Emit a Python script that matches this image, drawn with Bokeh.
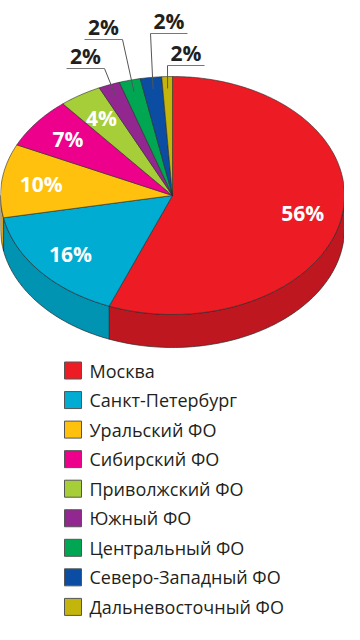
import numpy as np
from bokeh.plotting import figure
from bokeh.models import Range1d, ColumnDataSource
from bokeh.core.properties import value
from bokeh.embed import file_html
from bokeh.resources import INLINE

# ---- data ----
regions = ["Москва", "Санкт-Петербург", "Уральский ФО", "Сибирский ФО",
           "Приволжский ФО", "Южный ФО", "Центральный ФО",
           "Северо-Западный ФО", "Дальневосточный ФО"]
shares = [56, 16, 10, 7, 4, 2, 2, 2, 1]
share_labels = ["56%", "16%", "10%", "7%", "4%", "2%", "2%", "2%", "2%"]
colors = ["#ED1C24", "#00ACD2", "#FFC10E", "#EC008C", "#A6CE39",
          "#92278F", "#00A651", "#0A4DA2", "#C4B50C"]
side_colors = ["#BF1720", "#0093B2", "#D9A20B", "#C00073", "#88AB2C",
               "#761F74", "#008842", "#083E85", "#A09309"]

# ---- layout ----
CX, CY, RX, RY, DEPTH = 180.0, 203.0, 172.0, 119.0, 33.0
FONT = "Open Sans"

p = figure(width=344, height=620, x_range=Range1d(8, 352), y_range=Range1d(628, 8),
           output_backend="svg", toolbar_location=None, min_border=0,
           x_axis_location=None, y_axis_location=None, title=None)
p.grid.visible = False
p.outline_line_color = None
p.background_fill_color = "white"
p.border_fill_color = "white"


def ell(t, f=1.0):
    return CX + RX * f * np.sin(t), CY - RY * f * np.cos(t)


total = float(sum(shares))
cum = np.concatenate([[0.0], np.cumsum(shares)]) / total * 2 * np.pi
starts, ends = cum[:-1], cum[1:]
mids = (starts + ends) / 2

# side faces (front half only)
sx, sy, sc = [], [], []
for a, b, c in zip(starts, ends, side_colors):
    lo, hi = max(a, np.pi / 2), min(b, 3 * np.pi / 2)
    if lo < hi:
        t = np.linspace(lo, hi, 80)
        x, y = ell(t)
        sx.append(list(x) + list(x[::-1]))
        sy.append(list(y) + list((y + DEPTH)[::-1]))
        sc.append(c)
p.patches(sx, sy, fill_color=sc, line_color="#2a2a2a", line_width=0.7)

# top faces
tx, ty = [], []
for a, b in zip(starts, ends):
    t = np.linspace(a, b, max(4, int((b - a) * 60)))
    x, y = ell(t)
    tx.append([CX] + list(x))
    ty.append([CY] + list(y))
p.patches(tx, ty, fill_color=colors, line_color="#2a2a2a", line_width=0.6)

# inner labels
inner = [i for i in range(len(shares)) if shares[i] >= 4]
lx, ly = ell(mids[inner], 0.77)
p.text(lx, ly, text=[share_labels[i] for i in inner], text_color="white",
       text_font=value(FONT), text_font_style="bold", text_font_size="21px",
       text_align="center", text_baseline="middle")

# callout labels for small slices (layout: line x-start, x-end, y, elbow side)
outer = [i for i in range(len(shares)) if shares[i] < 4]
callouts = [(74, 112, 76, "right"), (92, 130, 47, "right"),
            (158, 195, 41, "left"), (175, 212, 73, "left")]
for i, (x0, x1, yl, side) in zip(outer, callouts):
    ex = x1 if side == "right" else x0
    px, py = ell(mids[i], 0.9)
    p.line([px, ex], [py, yl], line_color="#555555", line_width=1)
    p.line([x0, x1], [yl, yl], line_color="#777777", line_width=1)
    p.text([(x0 + x1) / 2], [yl + 1], text=[share_labels[i]], text_color="#231F20",
           text_font=value(FONT), text_font_style="bold", text_font_size="21px",
           text_align="center", text_baseline="bottom")

# legend
row_y = 378 + 29.55 * np.arange(len(regions))
src = ColumnDataSource(dict(y=row_y, c=colors, name=regions))
p.rect(x=80.5, y="y", width=17, height=17, fill_color="c", line_color="#555555",
       line_width=1, source=src)
p.text(x=97, y="y", text="name", text_color="#231F20", text_font=value(FONT),
       text_font_size="18px", text_align="left", text_baseline="middle", source=src)

open("out.html", "w").write(file_html(p, INLINE))
